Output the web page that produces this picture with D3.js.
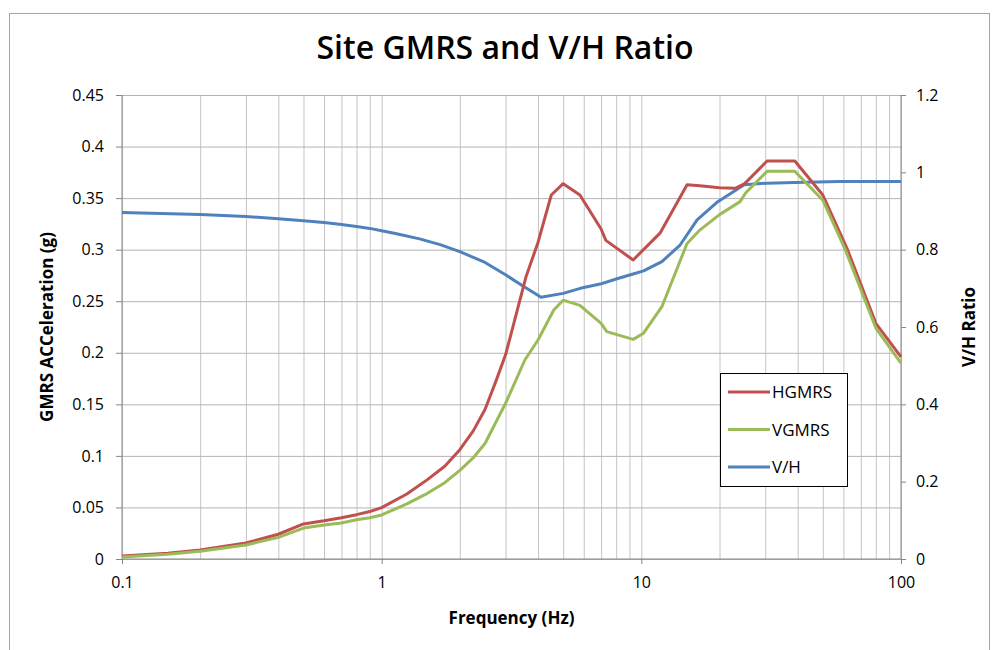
<!DOCTYPE html>
<html>
<head>
<meta charset="utf-8">
<script src="https://cdn.jsdelivr.net/npm/d3@7"></script>
<style>
  body { margin: 0; background: #fff; }
  svg { display: block; font-family: "Open Sans", "Noto Sans", sans-serif; }
</style>
</head>
<body>
<svg id="chart" width="993" height="650"></svg>
<script>
// frequencies (Hz) and values
const freqH = [0.1, 0.15, 0.2, 0.3, 0.4, 0.5, 0.6, 0.7, 0.8, 0.9, 1.0, 1.25, 1.5, 1.75, 2.0, 2.25, 2.5, 2.75, 3.0, 3.35, 3.6, 4.0, 4.5, 5.0, 5.8, 7.0, 7.3, 9.3, 11.8, 15, 16.8, 20, 23, 25, 30.5, 39, 50, 62, 80, 100];
const hgmrs = [0.003, 0.0055, 0.0087, 0.0155, 0.024, 0.034, 0.037, 0.040, 0.043, 0.046, 0.0498, 0.063, 0.077, 0.090, 0.106, 0.124, 0.145, 0.172, 0.198, 0.244, 0.274, 0.307, 0.353, 0.364, 0.353, 0.320, 0.309, 0.290, 0.316, 0.363, 0.362, 0.360, 0.3595, 0.364, 0.386, 0.386, 0.353, 0.301, 0.2286, 0.196];

const freqV = [0.1, 0.15, 0.2, 0.3, 0.4, 0.5, 0.6, 0.7, 0.8, 0.9, 1.0, 1.25, 1.5, 1.75, 2.0, 2.25, 2.5, 3.0, 3.56, 4.0, 4.6, 5.0, 5.8, 7.0, 7.36, 9.3, 10.2, 12.0, 15.0, 16.8, 20, 24, 25.2, 30.5, 39, 50, 61, 80, 100];
const vgmrs = [0.002, 0.0045, 0.0075, 0.0136, 0.021, 0.030, 0.033, 0.035, 0.038, 0.040, 0.0427, 0.0534, 0.0637, 0.0740, 0.086, 0.098, 0.112, 0.151, 0.193, 0.2124, 0.2415, 0.251, 0.246, 0.2286, 0.2205, 0.213, 0.219, 0.2447, 0.306, 0.319, 0.334, 0.3466, 0.355, 0.376, 0.376, 0.348, 0.300, 0.224, 0.190];

const freqVH = [0.1, 0.2, 0.3, 0.4, 0.5, 0.6, 0.7, 0.8, 0.9, 1.0, 1.13, 1.4, 1.68, 2.0, 2.5, 3.0, 3.5, 4.11, 5.0, 5.82, 6.94, 8.0, 9.3, 10.2, 12.0, 14.1, 16.4, 19.7, 24.9, 30.5, 39, 58, 100];
const vhRatio = [0.896, 0.891, 0.886, 0.880, 0.875, 0.870, 0.865, 0.860, 0.855, 0.849, 0.842, 0.828, 0.813, 0.795, 0.767, 0.735, 0.706, 0.677, 0.687, 0.700, 0.711, 0.724, 0.737, 0.745, 0.769, 0.812, 0.877, 0.924, 0.968, 0.972, 0.974, 0.976, 0.976];

const xTicks = [0.1, 1, 10, 100];
const leftTicks = [0, 0.05, 0.1, 0.15, 0.2, 0.25, 0.3, 0.35, 0.4, 0.45];
const rightTicks = [0, 0.2, 0.4, 0.6, 0.8, 1, 1.2];

const seriesNames = ["HGMRS", "VGMRS", "V/H"];
const seriesColors = ["#c0504d", "#9bbb59", "#4f81bd"];

const svg = d3.select("#chart");
const margin = { top: 95, right: 92, bottom: 91, left: 122 };
const width = +svg.attr("width") - margin.left - margin.right;
const height = +svg.attr("height") - margin.top - margin.bottom;

// chart frame
svg.append("rect")
  .attr("x", 9.5).attr("y", 13.5)
  .attr("width", 980).attr("height", 660)
  .attr("fill", "none")
  .attr("stroke", "#a6a6a6");

svg.append("text")
  .attr("x", 505).attr("y", 59)
  .attr("text-anchor", "middle")
  .attr("font-size", "32px")
  .attr("font-weight", 600)
  .attr("fill", "#000")
  .text("Site GMRS and V/H Ratio");

// scales
const x = d3.scaleLog().domain([0.1, 100]).range([0, width]);
const y = d3.scaleLinear().domain([0, 0.45]).range([height, 0]);
const y2 = d3.scaleLinear().domain([0, 1.2]).range([height, 0]);

const g = svg.append("g")
  .attr("transform", "translate(" + margin.left + "," + margin.top + ")");

// vertical gridlines at every log minor step
const minor = [];
[0.1, 1, 10].forEach(d => { for (let k = 1; k < 10; k++) minor.push(k * d); });
minor.push(100);

g.append("g")
  .attr("class", "grid")
  .call(d3.axisBottom(x).tickValues(minor).tickSize(height).tickFormat(""))
  .call(s => s.select(".domain").remove())
  .selectAll("line").attr("stroke", "#c4c4c4");

g.append("g")
  .attr("class", "grid")
  .call(d3.axisLeft(y).tickValues(leftTicks).tickSize(-width).tickFormat(""))
  .call(s => s.select(".domain").remove())
  .selectAll("line").attr("stroke", "#b4b4b4");

// axes
const axisColor = "#868686";

const xAxis = g.append("g")
  .attr("transform", "translate(0," + height + ")")
  .call(d3.axisBottom(x).tickValues(xTicks).tickSize(5).tickPadding(13).tickFormat(d => d));

const yAxis = g.append("g")
  .call(d3.axisLeft(y).tickValues(leftTicks).tickSize(6).tickPadding(12).tickFormat(d => d));

const y2Axis = g.append("g")
  .attr("transform", "translate(" + width + ",0)")
  .call(d3.axisRight(y2).tickValues(rightTicks).tickSize(5).tickPadding(10).tickFormat(d => d));

[xAxis, yAxis, y2Axis].forEach(a => {
  a.select(".domain").attr("stroke", axisColor).attr("d", a === xAxis ? "M0,0H" + width : "M0,0V" + height);
  a.selectAll(".tick line").attr("stroke", axisColor);
  a.selectAll(".tick text")
    .attr("fill", "#000")
    .attr("font-size", "16px")
    .attr("font-family", "\"Open Sans\", sans-serif");
});

// axis titles
svg.append("text")
  .attr("transform", "translate(53," + (margin.top + height / 2) + ") rotate(-90)")
  .attr("text-anchor", "middle")
  .attr("font-size", "17px")
  .attr("font-weight", 700)
  .text("GMRS ACCeleration (g)");

svg.append("text")
  .attr("transform", "translate(975," + (margin.top + height / 2) + ") rotate(-90)")
  .attr("text-anchor", "middle")
  .attr("font-size", "17px")
  .attr("font-weight", 700)
  .text("V/H Ratio");

svg.append("text")
  .attr("x", margin.left + width / 2).attr("y", 624)
  .attr("text-anchor", "middle")
  .attr("font-size", "17px")
  .attr("font-weight", 700)
  .text("Frequency (Hz)");

// lines
const lineLeft = d3.line().x(d => x(d[0])).y(d => y(d[1]));
const lineRight = d3.line().x(d => x(d[0])).y(d => y2(d[1]));

const seriesData = [
  freqH.map((f, i) => [f, hgmrs[i]]),
  freqV.map((f, i) => [f, vgmrs[i]]),
  freqVH.map((f, i) => [f, vhRatio[i]])
];

// draw V/H first, then the spectra, like the picture
g.append("path")
  .datum(seriesData[2])
  .attr("fill", "none")
  .attr("stroke", seriesColors[2])
  .attr("stroke-width", 3)
  .attr("stroke-linejoin", "round")
  .attr("d", lineRight);

g.append("path")
  .datum(seriesData[0])
  .attr("fill", "none")
  .attr("stroke", seriesColors[0])
  .attr("stroke-width", 3)
  .attr("stroke-linejoin", "round")
  .attr("d", lineLeft);

g.append("path")
  .datum(seriesData[1])
  .attr("fill", "none")
  .attr("stroke", seriesColors[1])
  .attr("stroke-width", 3)
  .attr("stroke-linejoin", "round")
  .attr("d", lineLeft);

// legend
const legend = svg.append("g").attr("transform", "translate(720,373)");
legend.append("rect")
  .attr("x", 0.5).attr("y", 0.5)
  .attr("width", 127).attr("height", 113)
  .attr("fill", "#fff")
  .attr("stroke", "#000");

seriesNames.forEach((name, i) => {
  const ly = 19 + i * 37.5;
  legend.append("line")
    .attr("x1", 8).attr("x2", 50)
    .attr("y1", ly).attr("y2", ly)
    .attr("stroke", seriesColors[i])
    .attr("stroke-width", 3);
  legend.append("text")
    .attr("x", 52).attr("y", ly + 6)
    .attr("font-size", "17px")
    .text(name);
});
</script>
</body>
</html>
